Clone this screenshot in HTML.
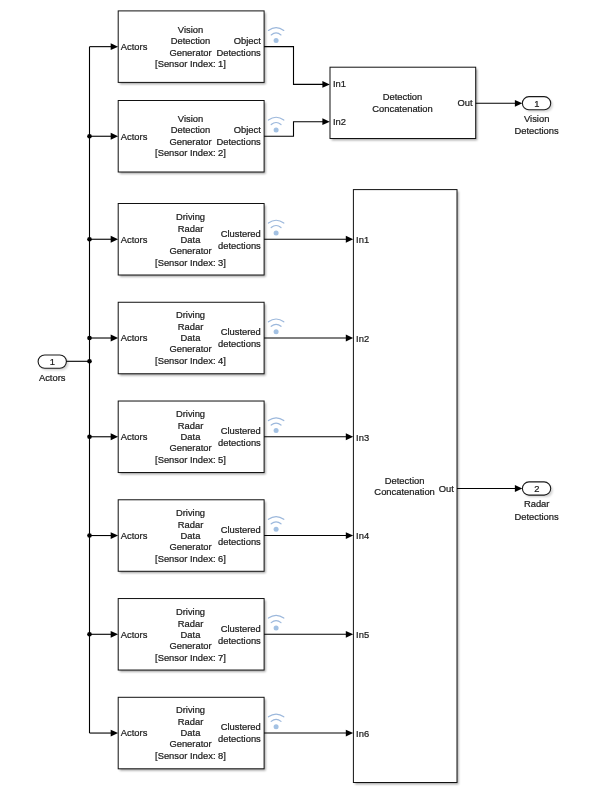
<!DOCTYPE html>
<html><head><meta charset="utf-8"><title>Model</title>
<style>
html,body{margin:0;padding:0;background:#fff;}
body{width:605px;height:800px;overflow:hidden;}
svg{display:block;font-family:"Liberation Sans",sans-serif;will-change:transform;opacity:0.999;}
</style></head><body>
<svg width="605" height="800" viewBox="0 0 605 800">
<defs><filter id="sh" x="-10%" y="-10%" width="120%" height="120%"><feGaussianBlur stdDeviation="0.8"/></filter></defs>
<rect width="605" height="800" fill="#fff"/>
<rect x="119.8" y="12.700000000000001" width="145.9" height="71.5" fill="#000" opacity="0.36" filter="url(#sh)"/><rect x="118.2" y="10.9" width="145.9" height="71.5" fill="#fff" stroke="#111" stroke-width="1"/>
<text x="120.8" y="50" text-anchor="start" font-size="9.4" fill="#1a1a1a" stroke="#1a1a1a" stroke-width="0.22">Actors</text>
<text x="190.5" y="33" text-anchor="middle" font-size="9.4" fill="#1a1a1a" stroke="#1a1a1a" stroke-width="0.22">Vision</text>
<text x="190.5" y="44" text-anchor="middle" font-size="9.4" fill="#1a1a1a" stroke="#1a1a1a" stroke-width="0.22">Detection</text>
<text x="190.5" y="56" text-anchor="middle" font-size="9.4" fill="#1a1a1a" stroke="#1a1a1a" stroke-width="0.22">Generator</text>
<text x="190.5" y="67" text-anchor="middle" font-size="9.4" fill="#1a1a1a" stroke="#1a1a1a" stroke-width="0.22">[Sensor Index: 1]</text>
<text x="260.8" y="44" text-anchor="end" font-size="9.4" fill="#1a1a1a" stroke="#1a1a1a" stroke-width="0.22">Object</text>
<text x="260.8" y="56" text-anchor="end" font-size="9.4" fill="#1a1a1a" stroke="#1a1a1a" stroke-width="0.22">Detections</text>
<circle cx="276.1" cy="40.45" r="2.5" fill="#a3c1e3"/><path d="M271.20000000000005 34.95 Q276.1 30.85 281.0 34.95" fill="none" stroke="#9cb8dc" stroke-width="1.2" stroke-linecap="round"/><path d="M268.40000000000003 30.45 Q276.1 24.85 283.8 30.45" fill="none" stroke="#9cb8dc" stroke-width="1.2" stroke-linecap="round"/>
<path d="M89.5 46.65 H112.2" fill="none" stroke="#000" stroke-width="1.1"/>
<path d="M118.10000000000001 46.65 L110.7 43.25 L110.7 50.05 Z" fill="#000"/>
<rect x="119.8" y="102.3" width="145.9" height="71.5" fill="#000" opacity="0.36" filter="url(#sh)"/><rect x="118.2" y="100.5" width="145.9" height="71.5" fill="#fff" stroke="#111" stroke-width="1"/>
<text x="120.8" y="140" text-anchor="start" font-size="9.4" fill="#1a1a1a" stroke="#1a1a1a" stroke-width="0.22">Actors</text>
<text x="190.5" y="122" text-anchor="middle" font-size="9.4" fill="#1a1a1a" stroke="#1a1a1a" stroke-width="0.22">Vision</text>
<text x="190.5" y="133" text-anchor="middle" font-size="9.4" fill="#1a1a1a" stroke="#1a1a1a" stroke-width="0.22">Detection</text>
<text x="190.5" y="145" text-anchor="middle" font-size="9.4" fill="#1a1a1a" stroke="#1a1a1a" stroke-width="0.22">Generator</text>
<text x="190.5" y="156" text-anchor="middle" font-size="9.4" fill="#1a1a1a" stroke="#1a1a1a" stroke-width="0.22">[Sensor Index: 2]</text>
<text x="260.8" y="133" text-anchor="end" font-size="9.4" fill="#1a1a1a" stroke="#1a1a1a" stroke-width="0.22">Object</text>
<text x="260.8" y="145" text-anchor="end" font-size="9.4" fill="#1a1a1a" stroke="#1a1a1a" stroke-width="0.22">Detections</text>
<circle cx="276.1" cy="130.05" r="2.5" fill="#a3c1e3"/><path d="M271.20000000000005 124.55 Q276.1 120.45 281.0 124.55" fill="none" stroke="#9cb8dc" stroke-width="1.2" stroke-linecap="round"/><path d="M268.40000000000003 120.05 Q276.1 114.45 283.8 120.05" fill="none" stroke="#9cb8dc" stroke-width="1.2" stroke-linecap="round"/>
<path d="M89.5 136.25 H112.2" fill="none" stroke="#000" stroke-width="1.1"/>
<path d="M118.10000000000001 136.25 L110.7 132.85 L110.7 139.65 Z" fill="#000"/>
<circle cx="89.5" cy="136.25" r="2.3" fill="#000"/>
<rect x="119.8" y="205.3" width="145.9" height="71.5" fill="#000" opacity="0.36" filter="url(#sh)"/><rect x="118.2" y="203.5" width="145.9" height="71.5" fill="#fff" stroke="#111" stroke-width="1"/>
<text x="120.8" y="243" text-anchor="start" font-size="9.4" fill="#1a1a1a" stroke="#1a1a1a" stroke-width="0.22">Actors</text>
<text x="190.5" y="220" text-anchor="middle" font-size="9.4" fill="#1a1a1a" stroke="#1a1a1a" stroke-width="0.22">Driving</text>
<text x="190.5" y="232" text-anchor="middle" font-size="9.4" fill="#1a1a1a" stroke="#1a1a1a" stroke-width="0.22">Radar</text>
<text x="190.5" y="243" text-anchor="middle" font-size="9.4" fill="#1a1a1a" stroke="#1a1a1a" stroke-width="0.22">Data</text>
<text x="190.5" y="254" text-anchor="middle" font-size="9.4" fill="#1a1a1a" stroke="#1a1a1a" stroke-width="0.22">Generator</text>
<text x="190.5" y="266" text-anchor="middle" font-size="9.4" fill="#1a1a1a" stroke="#1a1a1a" stroke-width="0.22">[Sensor Index: 3]</text>
<text x="260.8" y="237" text-anchor="end" font-size="9.4" fill="#1a1a1a" stroke="#1a1a1a" stroke-width="0.22">Clustered</text>
<text x="260.8" y="249" text-anchor="end" font-size="9.4" fill="#1a1a1a" stroke="#1a1a1a" stroke-width="0.22">detections</text>
<circle cx="276.1" cy="233.05" r="2.5" fill="#a3c1e3"/><path d="M271.20000000000005 227.55 Q276.1 223.45 281.0 227.55" fill="none" stroke="#9cb8dc" stroke-width="1.2" stroke-linecap="round"/><path d="M268.40000000000003 223.05 Q276.1 217.45 283.8 223.05" fill="none" stroke="#9cb8dc" stroke-width="1.2" stroke-linecap="round"/>
<path d="M89.5 239.25 H112.2" fill="none" stroke="#000" stroke-width="1.1"/>
<path d="M118.10000000000001 239.25 L110.7 235.85 L110.7 242.65 Z" fill="#000"/>
<circle cx="89.5" cy="239.25" r="2.3" fill="#000"/>
<rect x="119.8" y="304.06" width="145.9" height="71.5" fill="#000" opacity="0.36" filter="url(#sh)"/><rect x="118.2" y="302.26" width="145.9" height="71.5" fill="#fff" stroke="#111" stroke-width="1"/>
<text x="120.8" y="341" text-anchor="start" font-size="9.4" fill="#1a1a1a" stroke="#1a1a1a" stroke-width="0.22">Actors</text>
<text x="190.5" y="318" text-anchor="middle" font-size="9.4" fill="#1a1a1a" stroke="#1a1a1a" stroke-width="0.22">Driving</text>
<text x="190.5" y="330" text-anchor="middle" font-size="9.4" fill="#1a1a1a" stroke="#1a1a1a" stroke-width="0.22">Radar</text>
<text x="190.5" y="341" text-anchor="middle" font-size="9.4" fill="#1a1a1a" stroke="#1a1a1a" stroke-width="0.22">Data</text>
<text x="190.5" y="352" text-anchor="middle" font-size="9.4" fill="#1a1a1a" stroke="#1a1a1a" stroke-width="0.22">Generator</text>
<text x="190.5" y="364" text-anchor="middle" font-size="9.4" fill="#1a1a1a" stroke="#1a1a1a" stroke-width="0.22">[Sensor Index: 4]</text>
<text x="260.8" y="335" text-anchor="end" font-size="9.4" fill="#1a1a1a" stroke="#1a1a1a" stroke-width="0.22">Clustered</text>
<text x="260.8" y="347" text-anchor="end" font-size="9.4" fill="#1a1a1a" stroke="#1a1a1a" stroke-width="0.22">detections</text>
<circle cx="276.1" cy="331.81" r="2.5" fill="#a3c1e3"/><path d="M271.20000000000005 326.31 Q276.1 322.21 281.0 326.31" fill="none" stroke="#9cb8dc" stroke-width="1.2" stroke-linecap="round"/><path d="M268.40000000000003 321.81 Q276.1 316.21 283.8 321.81" fill="none" stroke="#9cb8dc" stroke-width="1.2" stroke-linecap="round"/>
<path d="M89.5 338.01 H112.2" fill="none" stroke="#000" stroke-width="1.1"/>
<path d="M118.10000000000001 338.01 L110.7 334.61 L110.7 341.40999999999997 Z" fill="#000"/>
<circle cx="89.5" cy="338.01" r="2.3" fill="#000"/>
<rect x="119.8" y="402.82" width="145.9" height="71.5" fill="#000" opacity="0.36" filter="url(#sh)"/><rect x="118.2" y="401.02" width="145.9" height="71.5" fill="#fff" stroke="#111" stroke-width="1"/>
<text x="120.8" y="440" text-anchor="start" font-size="9.4" fill="#1a1a1a" stroke="#1a1a1a" stroke-width="0.22">Actors</text>
<text x="190.5" y="417" text-anchor="middle" font-size="9.4" fill="#1a1a1a" stroke="#1a1a1a" stroke-width="0.22">Driving</text>
<text x="190.5" y="429" text-anchor="middle" font-size="9.4" fill="#1a1a1a" stroke="#1a1a1a" stroke-width="0.22">Radar</text>
<text x="190.5" y="440" text-anchor="middle" font-size="9.4" fill="#1a1a1a" stroke="#1a1a1a" stroke-width="0.22">Data</text>
<text x="190.5" y="451" text-anchor="middle" font-size="9.4" fill="#1a1a1a" stroke="#1a1a1a" stroke-width="0.22">Generator</text>
<text x="190.5" y="463" text-anchor="middle" font-size="9.4" fill="#1a1a1a" stroke="#1a1a1a" stroke-width="0.22">[Sensor Index: 5]</text>
<text x="260.8" y="434" text-anchor="end" font-size="9.4" fill="#1a1a1a" stroke="#1a1a1a" stroke-width="0.22">Clustered</text>
<text x="260.8" y="446" text-anchor="end" font-size="9.4" fill="#1a1a1a" stroke="#1a1a1a" stroke-width="0.22">detections</text>
<circle cx="276.1" cy="430.57" r="2.5" fill="#a3c1e3"/><path d="M271.20000000000005 425.07 Q276.1 420.97 281.0 425.07" fill="none" stroke="#9cb8dc" stroke-width="1.2" stroke-linecap="round"/><path d="M268.40000000000003 420.57 Q276.1 414.97 283.8 420.57" fill="none" stroke="#9cb8dc" stroke-width="1.2" stroke-linecap="round"/>
<path d="M89.5 436.77 H112.2" fill="none" stroke="#000" stroke-width="1.1"/>
<path d="M118.10000000000001 436.77 L110.7 433.37 L110.7 440.16999999999996 Z" fill="#000"/>
<circle cx="89.5" cy="436.77" r="2.3" fill="#000"/>
<rect x="119.8" y="501.58000000000004" width="145.9" height="71.5" fill="#000" opacity="0.36" filter="url(#sh)"/><rect x="118.2" y="499.78000000000003" width="145.9" height="71.5" fill="#fff" stroke="#111" stroke-width="1"/>
<text x="120.8" y="539" text-anchor="start" font-size="9.4" fill="#1a1a1a" stroke="#1a1a1a" stroke-width="0.22">Actors</text>
<text x="190.5" y="516" text-anchor="middle" font-size="9.4" fill="#1a1a1a" stroke="#1a1a1a" stroke-width="0.22">Driving</text>
<text x="190.5" y="528" text-anchor="middle" font-size="9.4" fill="#1a1a1a" stroke="#1a1a1a" stroke-width="0.22">Radar</text>
<text x="190.5" y="539" text-anchor="middle" font-size="9.4" fill="#1a1a1a" stroke="#1a1a1a" stroke-width="0.22">Data</text>
<text x="190.5" y="550" text-anchor="middle" font-size="9.4" fill="#1a1a1a" stroke="#1a1a1a" stroke-width="0.22">Generator</text>
<text x="190.5" y="562" text-anchor="middle" font-size="9.4" fill="#1a1a1a" stroke="#1a1a1a" stroke-width="0.22">[Sensor Index: 6]</text>
<text x="260.8" y="533" text-anchor="end" font-size="9.4" fill="#1a1a1a" stroke="#1a1a1a" stroke-width="0.22">Clustered</text>
<text x="260.8" y="545" text-anchor="end" font-size="9.4" fill="#1a1a1a" stroke="#1a1a1a" stroke-width="0.22">detections</text>
<circle cx="276.1" cy="529.33" r="2.5" fill="#a3c1e3"/><path d="M271.20000000000005 523.83 Q276.1 519.73 281.0 523.83" fill="none" stroke="#9cb8dc" stroke-width="1.2" stroke-linecap="round"/><path d="M268.40000000000003 519.33 Q276.1 513.73 283.8 519.33" fill="none" stroke="#9cb8dc" stroke-width="1.2" stroke-linecap="round"/>
<path d="M89.5 535.53 H112.2" fill="none" stroke="#000" stroke-width="1.1"/>
<path d="M118.10000000000001 535.53 L110.7 532.13 L110.7 538.93 Z" fill="#000"/>
<circle cx="89.5" cy="535.53" r="2.3" fill="#000"/>
<rect x="119.8" y="600.3399999999999" width="145.9" height="71.5" fill="#000" opacity="0.36" filter="url(#sh)"/><rect x="118.2" y="598.54" width="145.9" height="71.5" fill="#fff" stroke="#111" stroke-width="1"/>
<text x="120.8" y="638" text-anchor="start" font-size="9.4" fill="#1a1a1a" stroke="#1a1a1a" stroke-width="0.22">Actors</text>
<text x="190.5" y="615" text-anchor="middle" font-size="9.4" fill="#1a1a1a" stroke="#1a1a1a" stroke-width="0.22">Driving</text>
<text x="190.5" y="627" text-anchor="middle" font-size="9.4" fill="#1a1a1a" stroke="#1a1a1a" stroke-width="0.22">Radar</text>
<text x="190.5" y="638" text-anchor="middle" font-size="9.4" fill="#1a1a1a" stroke="#1a1a1a" stroke-width="0.22">Data</text>
<text x="190.5" y="649" text-anchor="middle" font-size="9.4" fill="#1a1a1a" stroke="#1a1a1a" stroke-width="0.22">Generator</text>
<text x="190.5" y="661" text-anchor="middle" font-size="9.4" fill="#1a1a1a" stroke="#1a1a1a" stroke-width="0.22">[Sensor Index: 7]</text>
<text x="260.8" y="632" text-anchor="end" font-size="9.4" fill="#1a1a1a" stroke="#1a1a1a" stroke-width="0.22">Clustered</text>
<text x="260.8" y="644" text-anchor="end" font-size="9.4" fill="#1a1a1a" stroke="#1a1a1a" stroke-width="0.22">detections</text>
<circle cx="276.1" cy="628.09" r="2.5" fill="#a3c1e3"/><path d="M271.20000000000005 622.59 Q276.1 618.49 281.0 622.59" fill="none" stroke="#9cb8dc" stroke-width="1.2" stroke-linecap="round"/><path d="M268.40000000000003 618.09 Q276.1 612.49 283.8 618.09" fill="none" stroke="#9cb8dc" stroke-width="1.2" stroke-linecap="round"/>
<path d="M89.5 634.29 H112.2" fill="none" stroke="#000" stroke-width="1.1"/>
<path d="M118.10000000000001 634.29 L110.7 630.89 L110.7 637.6899999999999 Z" fill="#000"/>
<circle cx="89.5" cy="634.29" r="2.3" fill="#000"/>
<rect x="119.8" y="699.0999999999999" width="145.9" height="71.5" fill="#000" opacity="0.36" filter="url(#sh)"/><rect x="118.2" y="697.3" width="145.9" height="71.5" fill="#fff" stroke="#111" stroke-width="1"/>
<text x="120.8" y="736" text-anchor="start" font-size="9.4" fill="#1a1a1a" stroke="#1a1a1a" stroke-width="0.22">Actors</text>
<text x="190.5" y="713" text-anchor="middle" font-size="9.4" fill="#1a1a1a" stroke="#1a1a1a" stroke-width="0.22">Driving</text>
<text x="190.5" y="725" text-anchor="middle" font-size="9.4" fill="#1a1a1a" stroke="#1a1a1a" stroke-width="0.22">Radar</text>
<text x="190.5" y="736" text-anchor="middle" font-size="9.4" fill="#1a1a1a" stroke="#1a1a1a" stroke-width="0.22">Data</text>
<text x="190.5" y="747" text-anchor="middle" font-size="9.4" fill="#1a1a1a" stroke="#1a1a1a" stroke-width="0.22">Generator</text>
<text x="190.5" y="759" text-anchor="middle" font-size="9.4" fill="#1a1a1a" stroke="#1a1a1a" stroke-width="0.22">[Sensor Index: 8]</text>
<text x="260.8" y="730" text-anchor="end" font-size="9.4" fill="#1a1a1a" stroke="#1a1a1a" stroke-width="0.22">Clustered</text>
<text x="260.8" y="742" text-anchor="end" font-size="9.4" fill="#1a1a1a" stroke="#1a1a1a" stroke-width="0.22">detections</text>
<circle cx="276.1" cy="726.85" r="2.5" fill="#a3c1e3"/><path d="M271.20000000000005 721.35 Q276.1 717.25 281.0 721.35" fill="none" stroke="#9cb8dc" stroke-width="1.2" stroke-linecap="round"/><path d="M268.40000000000003 716.85 Q276.1 711.25 283.8 716.85" fill="none" stroke="#9cb8dc" stroke-width="1.2" stroke-linecap="round"/>
<path d="M89.5 733.05 H112.2" fill="none" stroke="#000" stroke-width="1.1"/>
<path d="M118.10000000000001 733.05 L110.7 729.65 L110.7 736.4499999999999 Z" fill="#000"/>
<path d="M89.5 46.65 V733.05" fill="none" stroke="#000" stroke-width="1.1"/>
<rect x="40.1" y="357.0" width="28.3" height="13.2" rx="6.6" fill="#000" opacity="0.18" filter="url(#sh)"/><rect x="38.1" y="355.0" width="28.3" height="13.2" rx="6.6" fill="#fff" stroke="#1a1a1a" stroke-width="1.1"/><text x="52.45" y="365" text-anchor="middle" font-size="9.4" fill="#1a1a1a" stroke="#1a1a1a" stroke-width="0.22">1</text>
<path d="M66.4 361.3 H89.5" fill="none" stroke="#000" stroke-width="1.1"/>
<circle cx="89.5" cy="361.3" r="2.3" fill="#000"/>
<text x="52.2" y="381" text-anchor="middle" font-size="9.4" fill="#1a1a1a" stroke="#1a1a1a" stroke-width="0.22">Actors</text>
<rect x="331.6" y="69.0" width="145.7" height="71.3" fill="#000" opacity="0.36" filter="url(#sh)"/><rect x="330.0" y="67.2" width="145.7" height="71.3" fill="#fff" stroke="#111" stroke-width="1"/>
<text x="333.0" y="86.9" text-anchor="start" font-size="9.4" fill="#1a1a1a" stroke="#1a1a1a" stroke-width="0.22">In1</text>
<text x="333.0" y="124.7" text-anchor="start" font-size="9.4" fill="#1a1a1a" stroke="#1a1a1a" stroke-width="0.22">In2</text>
<text x="402.5" y="100" text-anchor="middle" font-size="9.4" fill="#1a1a1a" stroke="#1a1a1a" stroke-width="0.22">Detection</text>
<text x="402.5" y="112.0" text-anchor="middle" font-size="9.4" fill="#1a1a1a" stroke="#1a1a1a" stroke-width="0.22">Concatenation</text>
<text x="472.7" y="105.8" text-anchor="end" font-size="9.4" fill="#1a1a1a" stroke="#1a1a1a" stroke-width="0.22">Out</text>
<path d="M264.1 46.65 H293.5 V84.4 H324" fill="none" stroke="#000" stroke-width="1.1"/>
<path d="M329.8 84.4 L322.40000000000003 81.0 L322.40000000000003 87.80000000000001 Z" fill="#000"/>
<path d="M264.1 136.25 H293.5 V121.7 H324" fill="none" stroke="#000" stroke-width="1.1"/>
<path d="M329.8 121.7 L322.40000000000003 118.3 L322.40000000000003 125.10000000000001 Z" fill="#000"/>
<path d="M475.7 103.3 H517" fill="none" stroke="#000" stroke-width="1.1"/>
<path d="M522.3 103.3 L514.9 99.89999999999999 L514.9 106.7 Z" fill="#000"/>
<rect x="524.4" y="98.6" width="28.3" height="13.1" rx="6.55" fill="#000" opacity="0.18" filter="url(#sh)"/><rect x="522.4" y="96.6" width="28.3" height="13.1" rx="6.55" fill="#fff" stroke="#1a1a1a" stroke-width="1.1"/><text x="536.75" y="107" text-anchor="middle" font-size="9.4" fill="#1a1a1a" stroke="#1a1a1a" stroke-width="0.22">1</text>
<text x="536.7" y="122" text-anchor="middle" font-size="9.4" fill="#1a1a1a" stroke="#1a1a1a" stroke-width="0.22">Vision</text>
<text x="536.6" y="134" text-anchor="middle" font-size="9.4" fill="#1a1a1a" stroke="#1a1a1a" stroke-width="0.22">Detections</text>
<rect x="355.0" y="191.4" width="103.6" height="592.9" fill="#000" opacity="0.36" filter="url(#sh)"/><rect x="353.4" y="189.6" width="103.6" height="592.9" fill="#fff" stroke="#111" stroke-width="1"/>
<path d="M264.1 239.25 H348" fill="none" stroke="#000" stroke-width="1.1"/>
<path d="M353.2 239.25 L345.8 235.85 L345.8 242.65 Z" fill="#000"/>
<text x="356.1" y="243" text-anchor="start" font-size="9.4" fill="#1a1a1a" stroke="#1a1a1a" stroke-width="0.22">In1</text>
<path d="M264.1 338.01 H348" fill="none" stroke="#000" stroke-width="1.1"/>
<path d="M353.2 338.01 L345.8 334.61 L345.8 341.40999999999997 Z" fill="#000"/>
<text x="356.1" y="342" text-anchor="start" font-size="9.4" fill="#1a1a1a" stroke="#1a1a1a" stroke-width="0.22">In2</text>
<path d="M264.1 436.77 H348" fill="none" stroke="#000" stroke-width="1.1"/>
<path d="M353.2 436.77 L345.8 433.37 L345.8 440.16999999999996 Z" fill="#000"/>
<text x="356.1" y="441" text-anchor="start" font-size="9.4" fill="#1a1a1a" stroke="#1a1a1a" stroke-width="0.22">In3</text>
<path d="M264.1 535.53 H348" fill="none" stroke="#000" stroke-width="1.1"/>
<path d="M353.2 535.53 L345.8 532.13 L345.8 538.93 Z" fill="#000"/>
<text x="356.1" y="539" text-anchor="start" font-size="9.4" fill="#1a1a1a" stroke="#1a1a1a" stroke-width="0.22">In4</text>
<path d="M264.1 634.29 H348" fill="none" stroke="#000" stroke-width="1.1"/>
<path d="M353.2 634.29 L345.8 630.89 L345.8 637.6899999999999 Z" fill="#000"/>
<text x="356.1" y="638" text-anchor="start" font-size="9.4" fill="#1a1a1a" stroke="#1a1a1a" stroke-width="0.22">In5</text>
<path d="M264.1 733.05 H348" fill="none" stroke="#000" stroke-width="1.1"/>
<path d="M353.2 733.05 L345.8 729.65 L345.8 736.4499999999999 Z" fill="#000"/>
<text x="356.1" y="737" text-anchor="start" font-size="9.4" fill="#1a1a1a" stroke="#1a1a1a" stroke-width="0.22">In6</text>
<text x="404.6" y="483.7" text-anchor="middle" font-size="9.4" fill="#1a1a1a" stroke="#1a1a1a" stroke-width="0.22">Detection</text>
<text x="404.6" y="494.8" text-anchor="middle" font-size="9.4" fill="#1a1a1a" stroke="#1a1a1a" stroke-width="0.22">Concatenation</text>
<text x="453.8" y="491.5" text-anchor="end" font-size="9.4" fill="#1a1a1a" stroke="#1a1a1a" stroke-width="0.22">Out</text>
<path d="M457 488.5 H517" fill="none" stroke="#000" stroke-width="1.1"/>
<path d="M522.3 488.5 L514.9 485.1 L514.9 491.9 Z" fill="#000"/>
<rect x="524.4" y="483.9" width="28.3" height="13.2" rx="6.6" fill="#000" opacity="0.18" filter="url(#sh)"/><rect x="522.4" y="481.9" width="28.3" height="13.2" rx="6.6" fill="#fff" stroke="#1a1a1a" stroke-width="1.1"/><text x="536.75" y="492" text-anchor="middle" font-size="9.4" fill="#1a1a1a" stroke="#1a1a1a" stroke-width="0.22">2</text>
<text x="536.7" y="507" text-anchor="middle" font-size="9.4" fill="#1a1a1a" stroke="#1a1a1a" stroke-width="0.22">Radar</text>
<text x="536.6" y="520" text-anchor="middle" font-size="9.4" fill="#1a1a1a" stroke="#1a1a1a" stroke-width="0.22">Detections</text>
</svg>
</body></html>
